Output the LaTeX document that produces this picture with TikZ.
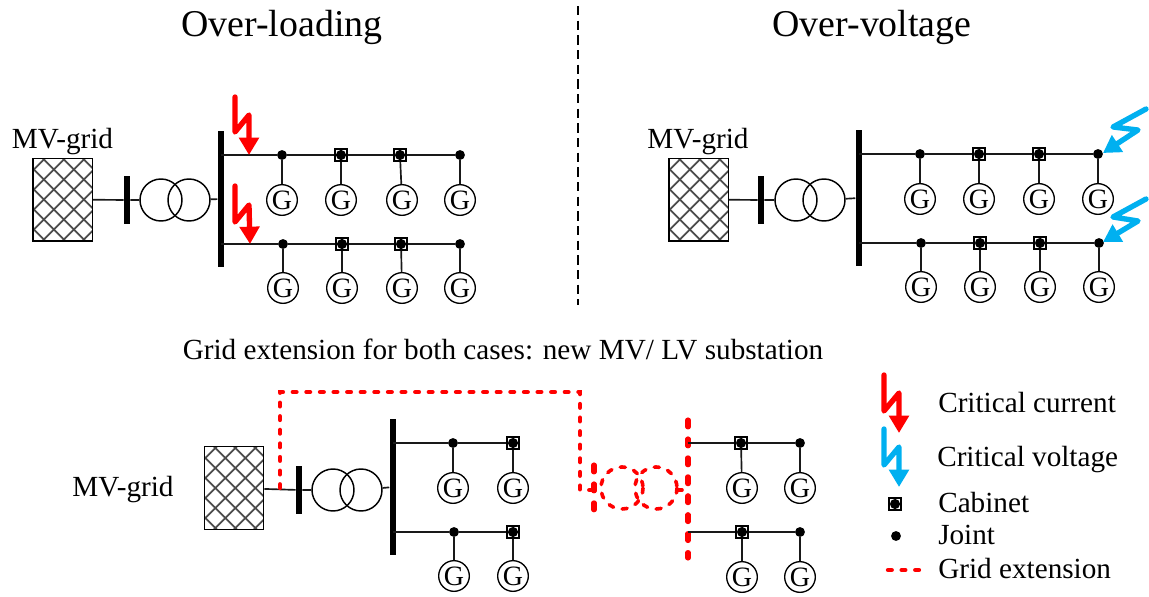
\documentclass[tikz,border=0pt]{standalone}
\usepackage{fontspec}
\setmainfont{Liberation Serif}
\usetikzlibrary{arrows.meta,calc}
\definecolor{blt}{RGB}{0,176,240}
\definecolor{rd}{RGB}{255,0,0}
\tikzset{
  x=0.75pt,y=-0.75pt,
  wire/.style={line width=1.25pt,draw=black!90},
  gridbox/.style={draw=black,line width=1pt,minimum width=44.5pt,minimum height=62pt,inner sep=0pt,
    path picture={
      \foreach \k in {-9,...,9}{
        \draw[black!70,line width=1.3pt] ($(path picture bounding box.center)+(\k*15pt+1pt,-40pt)+(-40pt,0pt)$) -- ++(80pt,80pt);
        \draw[black!70,line width=1.3pt] ($(path picture bounding box.center)+(\k*15pt+1pt,-40pt)+(40pt,0pt)$) -- ++(-80pt,80pt);
      }}},
  minibar/.style={fill=black,inner sep=0pt,minimum width=4.6pt,minimum height=35.5pt},
  bigbar/.style={fill=black,inner sep=0pt,minimum width=5.2pt,minimum height=102pt},
  tcircle/.style={circle,draw=black,line width=1.1pt,minimum size=31.5pt,inner sep=0pt},
  gen/.style={circle,draw=black,line width=1pt,minimum size=23pt,inner sep=0pt,font=\fontsize{21}{21}\selectfont},
  joint/.style={circle,fill=black,minimum size=7.4pt,inner sep=0pt},
  cab/.style={rectangle,draw=black,line width=0.9pt,minimum size=9pt,inner sep=0pt,fill=white,
    path picture={\fill[black] (path picture bounding box.center) circle (3.8pt);}},
  title/.style={font=\fontsize{28.4}{28.4}\selectfont,inner sep=0pt},
  lab/.style={font=\fontsize{21.9}{21.9}\selectfont,inner sep=0pt},
  bolt/.style={line width=4pt,line join=round,line cap=round,-{Triangle[length=13pt,width=14.5pt]}},
  ext/.style={draw=rd,line width=3.2pt,dash pattern=on 2.8pt off 7.4pt,line cap=round},
  extbar/.style={draw=rd,line width=3.8pt,line cap=round,dash pattern=on 5.2pt off 9pt},
  extc/.style={draw=rd,line width=2.7pt,line cap=round,dash pattern=on 3.8pt off 6.6pt},
}
\newcommand{\Jt}[3]{\node[joint] (#1) at (#2,#3) {};}
\newcommand{\Cb}[3]{\node[cab] (#1) at (#2,#3) {};}
\newcommand{\Gn}[3]{\node[gen] (#1g) at (#2,#3) {G}; \draw[wire] (#1) -- (#1g);}
\begin{document}
\begin{tikzpicture}
\useasboundingbox (0,0) rectangle (1149,596);
% titles
\node[title] (t1) at (282,27) {Over-loading};
\node[title] (t2) at (872,27) {Over-voltage};
\coordinate (da) at (578,6); \coordinate (db) at (578,305);
\draw[black,line width=0.9pt,dash pattern=on 7pt off 4pt] (da) -- (db);
% ---------- top left
\node[gridbox] (a0) at (62.5,199.5) {};
\node[lab,anchor=base] (al) at (62.5,148) {MV-grid};
\node[minibar] (ab) at (127,200) {};
\node[tcircle] (at1) at (161,200) {};
\node[tcircle] (at2) at (189,200) {};
\node[bigbar] (as) at (221,199) {};
\draw[wire] (a0) -- (ab) (ab) -- (at1) (at2) -- (as);
\coordinate (af1) at (221,155); \coordinate (af2) at (221,244);
\Jt{aa1}{282}{155}\Cb{aa2}{341}{155}\Cb{aa3}{400}{155}\Jt{aa4}{460}{155}
\draw[wire] (af1) -- (aa1) -- (aa2) -- (aa3) -- (aa4);
\Gn{aa1}{282}{200}\Gn{aa2}{341}{200}\Gn{aa3}{402}{200}\Gn{aa4}{460}{200}
\Jt{ab1}{283}{244}\Cb{ab2}{342}{244}\Cb{ab3}{401}{244}\Jt{ab4}{460}{244}
\draw[wire] (af2) -- (ab1) -- (ab2) -- (ab3) -- (ab4);
\Gn{ab1}{283}{288}\Gn{ab2}{342}{288}\Gn{ab3}{402}{288}\Gn{ab4}{460}{288}
\draw[bolt,draw=rd] (235,97) -- (235,132) -- (249,115) -- (249,155);
\draw[bolt,draw=rd] (235,186) -- (235,222) -- (249,205) -- (250,244);
% ---------- top right
\node[gridbox] (b0) at (698.5,199.5) {};
\node[lab,anchor=base] (bl) at (698,148) {MV-grid};
\node[minibar] (bb) at (761,200) {};
\node[tcircle] (bt1) at (796,200) {};
\node[tcircle] (bt2) at (824,200) {};
\node[bigbar] (bs) at (859,198) {};
\draw[wire] (b0) -- (bb) (bb) -- (bt1) (bt2) -- (bs);
\coordinate (bf1) at (859,154); \coordinate (bf2) at (859,243);
\Jt{ba1}{920}{154}\Cb{ba2}{979}{154}\Cb{ba3}{1039}{154}\Jt{ba4}{1098}{154}
\draw[wire] (bf1) -- (ba1) -- (ba2) -- (ba3) -- (ba4);
\Gn{ba1}{920}{199}\Gn{ba2}{979}{199}\Gn{ba3}{1039}{199}\Gn{ba4}{1098}{199}
\Jt{bb1}{921}{243}\Cb{bb2}{980}{243}\Cb{bb3}{1040}{243}\Jt{bb4}{1099}{243}
\draw[wire] (bf2) -- (bb1) -- (bb2) -- (bb3) -- (bb4);
\Gn{bb1}{921}{287}\Gn{bb2}{980}{287}\Gn{bb3}{1040}{287}\Gn{bb4}{1099}{287}
\draw[bolt,draw=blt] (1146,109) -- (1113,127) -- (1138,130) -- (1103,153);
\draw[bolt,draw=blt] (1146,199) -- (1113,217) -- (1138,221) -- (1103,242);
% ---------- caption
\node[lab,anchor=base] (cap) at (503,359) {Grid extension for both cases: new MV/ LV substation};
% ---------- bottom
\node[gridbox] (c0) at (234,488) {};
\node[lab,anchor=base] (cl) at (123,496) {MV-grid};
\node[minibar] (cb) at (299,490) {};
\node[tcircle] (ct1) at (333,490) {};
\node[tcircle] (ct2) at (361,490) {};
\node[bigbar] (cs) at (393,487) {};
\draw[wire] (c0) -- (cb) (cb) -- (ct1) (ct2) -- (cs);
\coordinate (cf1) at (393,443); \coordinate (cf2) at (393,532);
\Jt{ca1}{453}{443}\Cb{ca2}{513}{443}
\draw[wire] (cf1) -- (ca1) -- (ca2);
\Gn{ca1}{453}{488}\Gn{ca2}{513}{488}
\Jt{cc1}{454}{532}\Cb{cc2}{513}{532}
\draw[wire] (cf2) -- (cc1) -- (cc2);
\Gn{cc1}{454}{576}\Gn{cc2}{513}{576}
% new substation
\coordinate (xa) at (280,488); \coordinate (xb) at (280,392); \coordinate (xc) at (580,392);
\coordinate (xd) at (580,490); \coordinate (xe) at (594,490);
\draw[ext] (xa) -- (xb) -- (xc) -- (xd) -- (xe);
\coordinate (b1a) at (594,465); \coordinate (b1b) at (594,510);
\draw[extbar] (b1a) -- (b1b);
\coordinate (xc1) at (622,488); \coordinate (xc2) at (656,488);
\draw[extc] (xc1) circle (21) (xc2) circle (21);
\coordinate (b2a) at (688,420); \coordinate (b2b) at (688,558);
\draw[extbar] (b2a) -- (b2b);
\coordinate (st1) at (677,490); \coordinate (st2) at (682,490);
\draw[extc,solid] (st1) -- (st2);
\coordinate (df1) at (688,443); \coordinate (df2) at (688,532);
\Cb{da1}{741}{443}\Jt{da2}{800}{443}
\draw[wire] (df1) -- (da1) -- (da2);
\Gn{da1}{742}{488}\Gn{da2}{800}{488}
\Cb{dc1}{742}{532}\Jt{dc2}{800}{532}
\draw[wire] (df2) -- (dc1) -- (dc2);
\Gn{dc1}{742}{577}\Gn{dc2}{800}{577}
% ---------- legend
\draw[bolt,draw=rd] (884,375) -- (884,411) -- (899,393) -- (899,433);
\draw[bolt,draw=blt] (884,429) -- (884,465) -- (899,447) -- (899,487);
\node[cab] (lc) at (895,504) {};
\node[joint] (lj) at (896,536) {};
\coordinate (le1) at (888,570); \coordinate (le2) at (920,570);
\draw[ext] (le1) -- (le2);
\node[lab,anchor=base west] (l1) at (938,412) {Critical current};
\node[lab,anchor=base west] (l2) at (937,466) {Critical voltage};
\node[lab,anchor=base west] (l3) at (938,512) {Cabinet};
\node[lab,anchor=base west] (l4) at (938,544.5) {Joint};
\node[lab,anchor=base west] (l5) at (938,578) {Grid extension};
\end{tikzpicture}
\end{document}
